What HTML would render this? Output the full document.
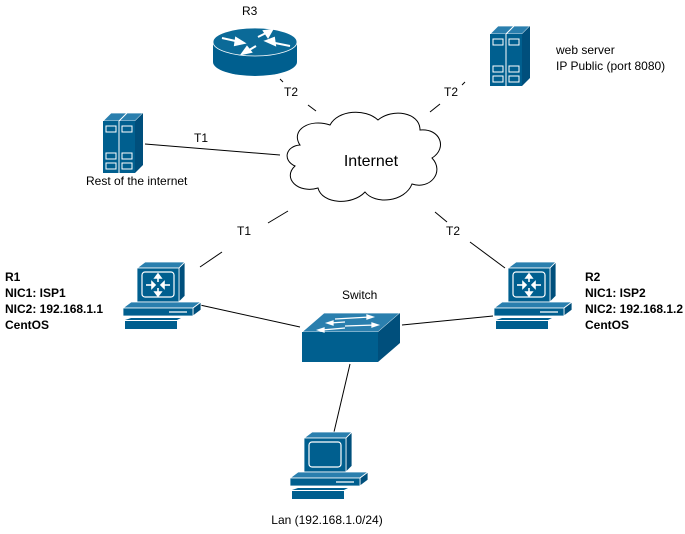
<!DOCTYPE html>
<html><head><style>
html,body{margin:0;padding:0;background:#fff;}
svg{display:block;}
text{font-family:"Liberation Sans",sans-serif;font-size:12px;fill:#000;}
.b{font-weight:bold;}
</style></head><body>
<svg width="685" height="534" viewBox="0 0 685 534" xmlns="http://www.w3.org/2000/svg">
<defs>
<g id="pc">
  <polygon points="14,6 22,0 62,0 56,6" fill="#2a7fae" stroke="#fff" stroke-width="0.8"/>
  <polygon points="56,6 62,0 62,34 56,40" fill="#004f7c" stroke="#fff" stroke-width="0.8"/>
  <rect x="14" y="6" width="42" height="34" fill="#005f8f" stroke="#fff" stroke-width="0.8"/>
  <rect x="19" y="10" width="32" height="25" rx="3" fill="#005f8f" stroke="#fff" stroke-width="1.2"/>
  <polygon points="0,46 8,40 78,40 70,46" fill="#2a7fae" stroke="#fff" stroke-width="0.8"/>
  <polygon points="70,46 78,40 78,48 70,54" fill="#004f7c" stroke="#fff" stroke-width="0.8"/>
  <rect x="0" y="46" width="70" height="8" fill="#005f8f" stroke="#fff" stroke-width="0.8"/>
  <line x1="46" y1="50" x2="64" y2="50" stroke="#fff" stroke-width="1.2"/>
  <polygon points="2,58 8,56 58,56 54,58" fill="#005f8f"/>
  <rect x="2" y="59" width="52" height="8" fill="#005f8f"/>
</g>
<g id="arrows4" stroke="#fff" stroke-width="1.6" fill="#fff">
  <line x1="-12" y1="0" x2="-4" y2="0"/><polygon points="-3,0 -6,-3 -6,3"/>
  <line x1="12" y1="0" x2="4" y2="0"/><polygon points="3,0 6,-3 6,3"/>
  <line x1="0" y1="-10" x2="0" y2="-3"/><polygon points="0,-11 -3,-7 3,-7"/>
  <line x1="0" y1="10" x2="0" y2="3"/><polygon points="0,11 -3,7 3,7"/>
</g>
<g id="srv">
  <polygon points="0,8 8,0 40,0 32,8" fill="#2a7fae" stroke="#fff" stroke-width="0.8"/>
  <line x1="16" y1="8" x2="24" y2="0" stroke="#fff"/>
  <polygon points="32,8 40,0 40,52 32,60" fill="#004f7c"/>
  <rect x="0" y="8" width="32" height="52" fill="#005f8f"/>
  <line x1="16" y1="8" x2="16" y2="60" stroke="#fff"/>
  <g fill="none" stroke="#fff" stroke-width="1">
   <rect x="3" y="13" width="10" height="6"/><rect x="19" y="13" width="10" height="6"/>
   <rect x="3" y="40" width="10" height="6"/><rect x="19" y="40" width="10" height="6"/>
   <rect x="3" y="50" width="10" height="6"/><rect x="19" y="50" width="10" height="6"/>
  </g>
</g>
</defs>

<!-- connectors -->
<g stroke="#000" stroke-width="1" fill="none">
  <line x1="280" y1="79" x2="283" y2="82"/>
  <line x1="308" y1="105" x2="316" y2="111"/>
  <line x1="465" y1="82" x2="462" y2="85"/>
  <line x1="440" y1="104" x2="430" y2="112"/>
  <line x1="145" y1="144" x2="280" y2="155"/>
  <line x1="288" y1="211" x2="268" y2="223"/>
  <line x1="222" y1="252" x2="200" y2="267"/>
  <line x1="435" y1="212" x2="447" y2="222"/>
  <line x1="470" y1="242" x2="505" y2="268"/>
  <line x1="200" y1="305" x2="300" y2="327"/>
  <line x1="493" y1="316" x2="402" y2="325"/>
  <line x1="350" y1="364" x2="334" y2="432"/>
</g>

<!-- cloud -->
<path d="M300,145 C290,130 310,118 330,125 C338,110 365,108 378,120 C392,108 420,112 420,130 C440,128 448,148 432,158 C445,172 430,190 412,184 C405,202 375,205 365,192 C352,206 322,204 318,188 C298,194 282,178 295,166 C282,160 286,146 300,145 Z" fill="#fff" stroke="#000" stroke-width="1"/>
<text x="371" y="166" text-anchor="middle" style="font-size:16px">Internet</text>

<!-- R3 router -->
<path d="M213,42 L213,62 A42,14 0 0 0 297,62 L297,42 Z" fill="#005f8f"/>
<ellipse cx="255" cy="42" rx="42" ry="14" fill="#0b6a98" stroke="#fff" stroke-width="0.8"/>
<g stroke="#fff" stroke-width="2" fill="#fff">
  <line x1="222" y1="38" x2="240" y2="42"/><polygon points="244,43 236,38 235,45"/>
  <line x1="290" y1="46" x2="270" y2="42"/><polygon points="266,41 274,38 275,45"/>
  <line x1="246" y1="52" x2="256" y2="46"/><polygon points="242,54 247,47 251,52"/>
  <line x1="268" y1="32" x2="258" y2="37"/><polygon points="272,30 264,31 268,37"/>
</g>
<text x="242" y="15">R3</text>
<text x="284" y="96">T2</text>

<!-- web server -->
<use href="#srv" x="490" y="26"/>
<text x="556" y="54">web server</text>
<text x="556" y="70">IP Public (port 8080)</text>
<text x="444" y="96">T2</text>

<!-- rest server -->
<use href="#srv" x="103" y="113"/>
<text x="86" y="185">Rest of the internet</text>
<text x="194" y="142">T1</text>

<text x="237" y="235">T1</text>
<text x="446" y="235">T2</text>

<!-- R1 -->
<use href="#pc" x="123" y="262"/>
<use href="#arrows4" x="158" y="285"/>
<text class="b" x="5" y="281">R1</text>
<text class="b" x="5" y="297">NIC1: ISP1</text>
<text class="b" x="5" y="313">NIC2: 192.168.1.1</text>
<text class="b" x="5" y="329">CentOS</text>

<!-- R2 -->
<use href="#pc" x="494" y="262"/>
<use href="#arrows4" x="529" y="285"/>
<text class="b" x="585" y="281">R2</text>
<text class="b" x="585" y="297">NIC1: ISP2</text>
<text class="b" x="585" y="313">NIC2: 192.168.1.2</text>
<text class="b" x="585" y="329">CentOS</text>

<!-- switch -->
<text x="342" y="299">Switch</text>
<polygon points="302,332 324,313 400,313 378,332" fill="#2a7fae" stroke="#fff" stroke-width="0.8"/>
<polygon points="378,332 400,313 400,343 378,362" fill="#004f7c"/>
<rect x="302" y="332" width="76" height="30" fill="#005f8f"/>
<g stroke="#fff" stroke-width="1.3" fill="#fff">
  <line x1="335" y1="319" x2="370" y2="317"/><polygon points="373,317 367,315 367,319"/>
  <line x1="330" y1="323" x2="345" y2="322"/><polygon points="327,323 333,321 333,325"/>
  <line x1="345" y1="326" x2="375" y2="325"/><polygon points="378,325 372,323 372,327"/>
  <line x1="322" y1="330" x2="345" y2="328"/><polygon points="318,330 324,328 324,332"/>
</g>

<!-- LAN pc -->
<use href="#pc" x="290" y="432"/>
<text x="327" y="524" text-anchor="middle">Lan (192.168.1.0/24)</text>
</svg>
</body></html>
